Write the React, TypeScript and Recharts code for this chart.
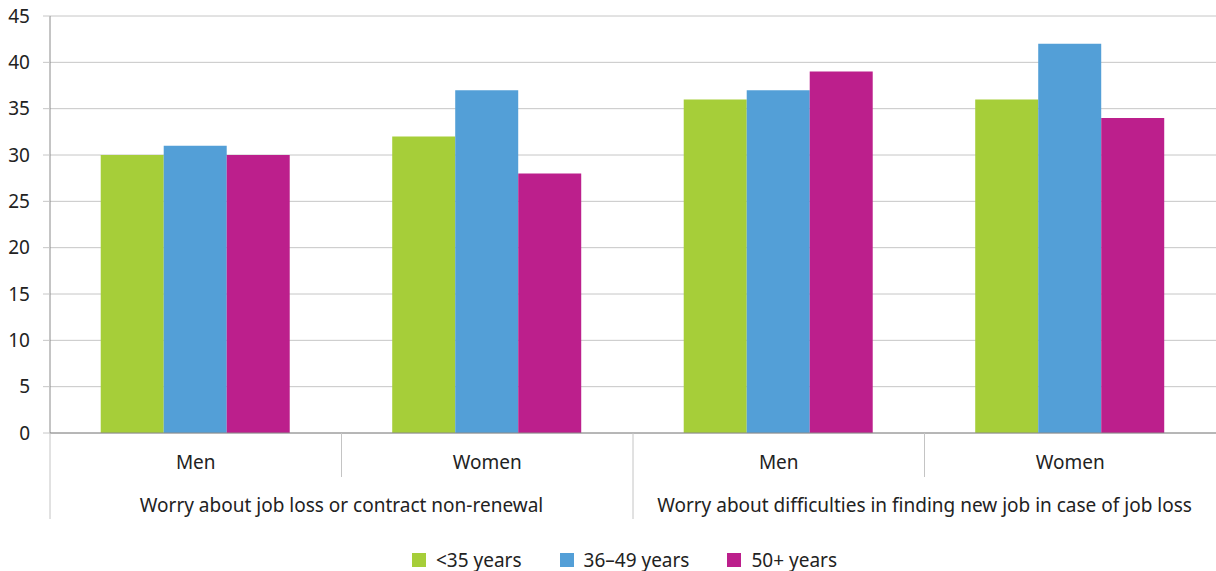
import React from "react";
import { BarChart, Bar, XAxis, YAxis, CartesianGrid, Legend } from "recharts";

const SUBGROUPS = ["Men", "Women", "Men", "Women"];
const GROUPS = [
  "Worry about job loss or contract non-renewal",
  "Worry about difficulties in finding new job in case of job loss",
];
const UNDER_35 = [30, 32, 36, 36];
const AGE_36_49 = [31, 37, 37, 42];
const OVER_50 = [30, 28, 39, 34];
const Y_TICKS = [0, 5, 10, 15, 20, 25, 30, 35, 40, 45];

const SERIES = [
  { key: "a", name: "<35 years", color: "#A6CE39" },
  { key: "b", name: "36–49 years", color: "#539FD7" },
  { key: "c", name: "50+ years", color: "#BC1F8C" },
];

const data = SUBGROUPS.map((sub, i) => ({
  id: String(i),
  sub,
  group: GROUPS[Math.floor(i / 2)],
  a: UNDER_35[i],
  b: AGE_36_49[i],
  c: OVER_50[i],
}));

const W = 1216;
const H = 571;
const Y_W = 50;
const MARGIN = { top: 16, right: 0, bottom: 2, left: 0 };
const BAND = (W - Y_W - MARGIN.left - MARGIN.right) / data.length;
const FONT = "'Noto Sans', sans-serif";
const TEXT = "#222";
const FS = 19;

function CategoryTick(props: any) {
  const { x, y, payload } = props;
  const i = payload.index ?? Number(payload.value);
  const row = data[i];
  const left = x - BAND / 2;
  const groupStart = i % 2 === 0;
  return (
    <g>
      <line
        x1={left}
        x2={left}
        y1={y}
        y2={groupStart ? y + 86 : y + 44}
        stroke="#c4c4c4"
        strokeWidth={1}
      />
      <text x={x} y={y + 36} textAnchor="middle" fontSize={FS} fontFamily={FONT} fill={TEXT}>
        {row.sub}
      </text>
      {groupStart && (
        <text
          x={x + BAND / 2}
          y={y + 79}
          textAnchor="middle"
          fontSize={FS}
          fontFamily={FONT}
          fill={TEXT}
        >
          {row.group}
        </text>
      )}
    </g>
  );
}

function LegendContent() {
  return (
    <div
      style={{
        display: "flex",
        justifyContent: "center",
        alignItems: "center",
        height: 24,
        fontFamily: FONT,
        fontSize: FS,
        color: TEXT,
        paddingLeft: 33,
        paddingTop: 3,
      }}
    >
      {SERIES.map((s) => (
        <div key={s.key} style={{ display: "flex", alignItems: "center", margin: "0 19px" }}>
          <span style={{ width: 14, height: 14, background: s.color, marginRight: 10 }} />
          <span>{s.name}</span>
        </div>
      ))}
    </div>
  );
}

export default function App() {
  return (
    <div style={{ position: "absolute", left: 0, top: 0, width: W, height: H, background: "#fff" }}>
      <BarChart
        width={W}
        height={H}
        data={data}
        margin={MARGIN}
        barGap={0}
        barCategoryGap="17.4%"
      >
        <CartesianGrid vertical={false} stroke="#c6c6c6" />
        <XAxis
          dataKey="id"
          height={112}
          tickLine={false}
          tickSize={0}
          tickMargin={0}
          axisLine={{ stroke: "#8a8a8a" }}
          tick={<CategoryTick />}
          interval={0}
        />
        <YAxis
          width={Y_W}
          domain={[0, 45]}
          ticks={Y_TICKS}
          interval={0}
          tickSize={7}
          tickMargin={13}
          tickLine={{ stroke: "#c6c6c6" }}
          axisLine={{ stroke: "#8a8a8a" }}
          tick={{ fontSize: FS, fontFamily: FONT, fill: TEXT }}
        />
        <Legend verticalAlign="bottom" height={24} content={<LegendContent />} />
        {SERIES.map((s) => (
          <Bar key={s.key} dataKey={s.key} name={s.name} fill={s.color} isAnimationActive={false} />
        ))}
      </BarChart>
    </div>
  );
}
